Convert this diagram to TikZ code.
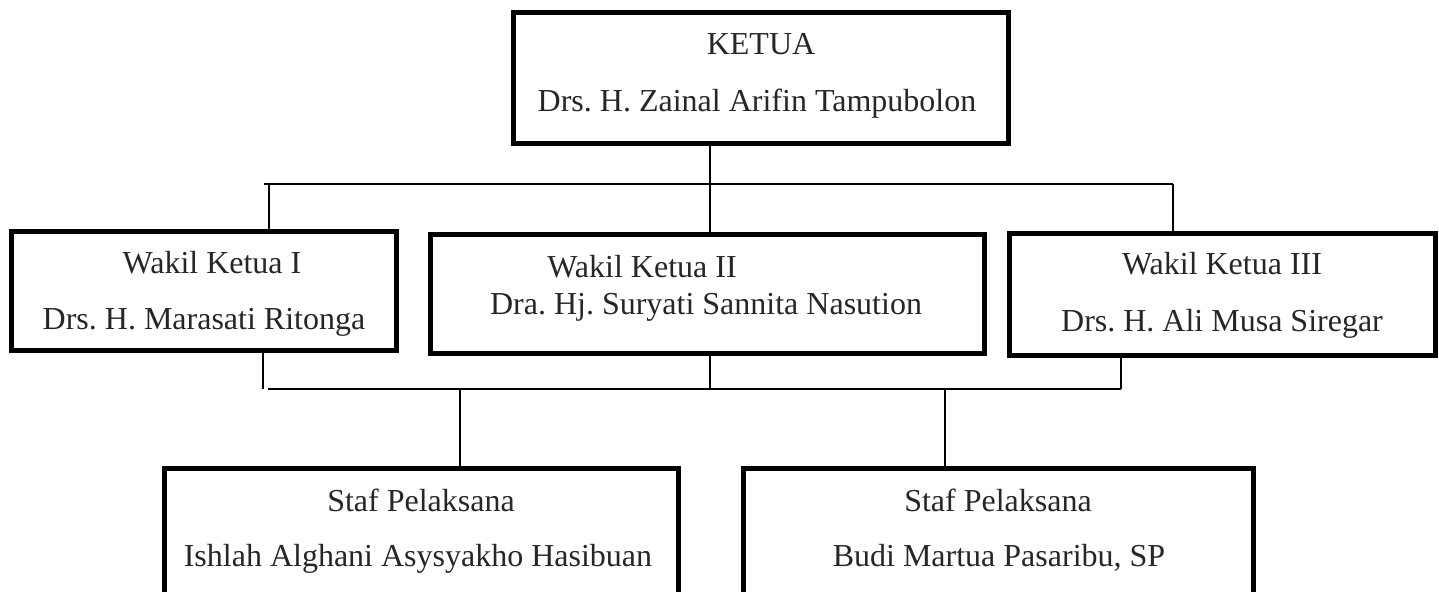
\documentclass[tikz,border=0pt]{standalone}
\usepackage{fontspec}
\setmainfont{Liberation Serif}
\frenchspacing
\begin{document}
\begin{tikzpicture}[x=0.5pt,y=-0.5pt,
    box/.style={draw,rectangle,line width=2.5pt,inner sep=0pt},
    txt/.style={anchor=base,inner sep=0pt,text=black!85,font=\fontsize{16}{19}\selectfont},
    conn/.style={line width=0.65pt}]
    \useasboundingbox (0,0) rectangle (1439,592);
    \clip (0,0) rectangle (1439,592);

    \node[box,minimum width=247.75pt,minimum height=65.75pt] (ketua) at (760.75,78.25) {};
    \node[box,minimum width=192.5pt,minimum height=59.5pt] (w1) at (203.5,291.5) {};
    \node[box,minimum width=277pt,minimum height=59.5pt] (w2) at (707,294.5) {};
    \node[box,minimum width=213pt,minimum height=61pt] (w3) at (1222,295) {};
    \node[box,minimum width=257pt,minimum height=90.5pt] (s1) at (421,559.5) {};
    \node[box,minimum width=255pt,minimum height=90.5pt] (s2) at (998,559.5) {};

    \node[txt] (ketua1) at (761,55) {KETUA};
    \node[txt] (ketua2) at (757,112) {Drs. H. Zainal Arifin Tampubolon};
    \node[txt] (w1a) at (212,274) {Wakil Ketua I};
    \node[txt] (w1b) at (204,330) {Drs. H. Marasati Ritonga};
    \node[txt] (w2a) at (642,278) {Wakil Ketua II};
    \node[txt] (w2b) at (706,315) {Dra. Hj. Suryati Sannita Nasution};
    \node[txt] (w3a) at (1222,275) {Wakil Ketua III};
    \node[txt] (w3b) at (1222,332) {Drs. H. Ali Musa Siregar};
    \node[txt] (s1a) at (421,511) {Staf Pelaksana};
    \node[txt] (s1b) at (418,567) {Ishlah Alghani Asysyakho Hasibuan};
    \node[txt] (s2a) at (998,511) {Staf Pelaksana};
    \node[txt] (s2b) at (999,567) {Budi Martua Pasaribu, SP};

    \coordinate (tl) at (264,184);
    \coordinate (tw1) at (269,184);
    \coordinate (tm) at (710,184);
    \coordinate (tr) at (1173,184);
    \coordinate (bs) at (263,389);
    \coordinate (bl) at (268,389);
    \coordinate (bm) at (710,389);
    \coordinate (br) at (1121,389);
    \coordinate (bs1) at (460,389);
    \coordinate (bs2) at (945,389);

    \draw[conn] (tl) -- (tr);
    \draw[conn] (tm |- ketua.south) -- (tm |- w2.north);
    \draw[conn] (tw1) -- (tw1 |- w1.north);
    \draw[conn] (tr) -- (tr |- w3.north);

    \draw[conn] (bl) -- (br);
    \draw[conn] (bs |- w1.south) -- (bs);
    \draw[conn] (bm |- w2.south) -- (bm);
    \draw[conn] (br |- w3.south) -- (br);
    \draw[conn] (bs1) -- (bs1 |- s1.north);
    \draw[conn] (bs2) -- (bs2 |- s2.north);
\end{tikzpicture}
\end{document}
